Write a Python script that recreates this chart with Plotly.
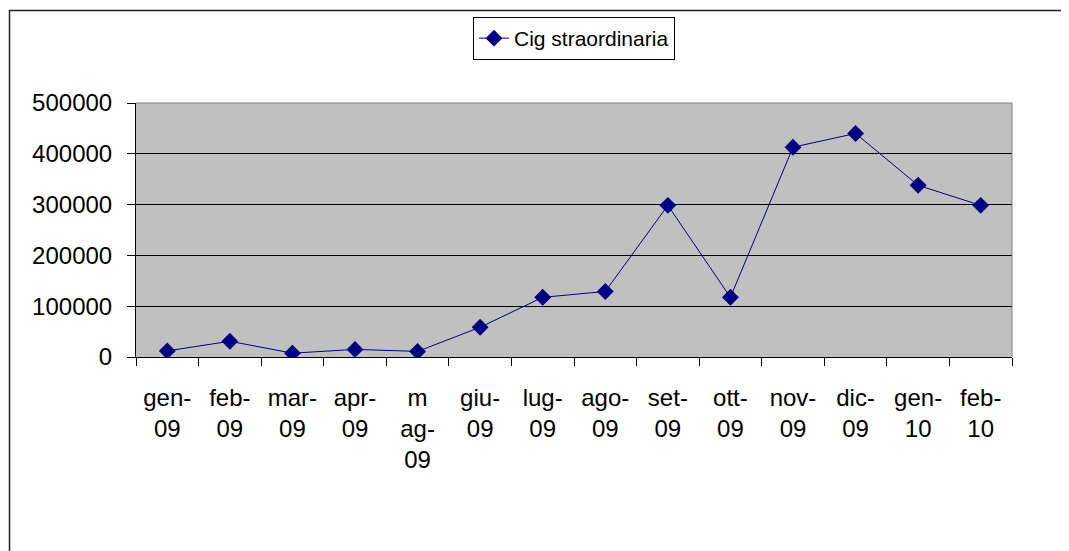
import plotly.graph_objects as go

categories = ["gen-09", "feb-09", "mar-09", "apr-09", "mag-09", "giu-09", "lug-09",
              "ago-09", "set-09", "ott-09", "nov-09", "dic-09", "gen-10", "feb-10"]
tick_labels = ["gen-<br>09", "feb-<br>09", "mar-<br>09", "apr-<br>09", "m<br>ag-<br>09",
               "giu-<br>09", "lug-<br>09", "ago-<br>09", "set-<br>09", "ott-<br>09",
               "nov-<br>09", "dic-<br>09", "gen-<br>10", "feb-<br>10"]
values = [12000, 31000, 7500, 15000, 11000, 58500, 117500,
          129000, 298500, 117500, 413000, 440000, 338000, 298500]
series_name = "Cig straordinaria"

# page body has an 8px margin, so the figure starts at (8, 8)
OFF = 8
W, H = 1069 - OFF, 551 - OFF
L, R, T, B = 136 - OFF, 57, 103 - OFF, 551 - 357
pw, ph = W - L - R, H - T - B

fig = go.Figure()
fig.add_trace(go.Scatter(
    x=categories, y=values, name=series_name, mode="lines+markers",
    line=dict(color="#000080", width=1),
    marker=dict(symbol="diamond", size=13, color="#000080"),
))

family = "Liberation Sans, Arial, sans-serif"
axis_font = dict(family=family, size=24, color="black")
legend_font = dict(family=family, size=21, color="black")

fig.update_layout(
    width=W, height=H,
    margin=dict(l=L, r=R, t=T, b=B, pad=0, autoexpand=False),
    paper_bgcolor="white", plot_bgcolor="#C0C0C0",
    font=axis_font,
    showlegend=True,
    legend=dict(x=0.5, xanchor="center", y=(H - B - (17 - OFF)) / ph, yanchor="top",
                orientation="h", bordercolor="black", borderwidth=1,
                bgcolor="white", font=legend_font),
    xaxis=dict(type="category", tickvals=categories, ticktext=tick_labels,
               tickson="boundaries", ticks="outside", ticklen=8, tickcolor="black",
               showline=True, linecolor="black", linewidth=1, showgrid=False,
               range=[-0.5, len(categories) - 0.5], tickfont=axis_font, tickangle=0,
               ticklabelstandoff=19),
    yaxis=dict(range=[0, 500000], dtick=100000, tickformat="d", ticks="outside",
               ticklen=8, tickcolor="black", showline=True, linecolor="black",
               linewidth=1, showgrid=True, gridcolor="black", gridwidth=1,
               zeroline=False, tickfont=axis_font, ticklabelstandoff=10),
)

# plot area border (top/right gray)
fig.add_shape(type="line", xref="paper", yref="paper", x0=0, x1=1, y0=1, y1=1,
              line=dict(color="#808080", width=1))
fig.add_shape(type="line", xref="paper", yref="paper", x0=1, x1=1, y0=0, y1=1,
              line=dict(color="#808080", width=1))
# outer chart border
fig.add_shape(type="rect", xref="paper", yref="paper",
              x0=(9.5 - OFF - L) / pw, x1=(W + 20 - L) / pw,
              y0=-(B + 20) / ph, y1=(H - B - (10.5 - OFF)) / ph,
              line=dict(color="#202020", width=1.5), layer="below")

fig.write_html("out.html")
